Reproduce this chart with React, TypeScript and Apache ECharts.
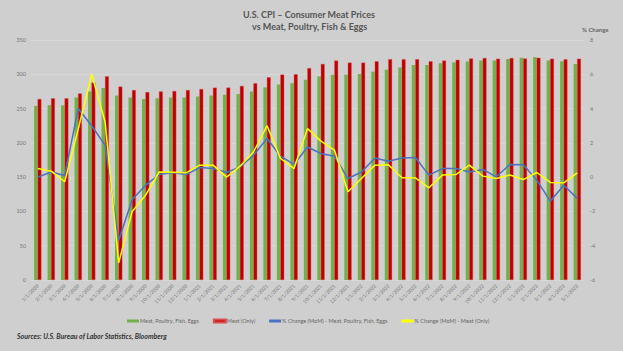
import React, { useEffect, useRef } from "react";
import * as echarts from "echarts";

const categories: string[] = [
  "1/1/2020","2/1/2020","3/1/2020","4/1/2020","5/1/2020","6/1/2020","7/1/2020","8/1/2020","9/1/2020","10/1/2020","11/1/2020","12/1/2020",
  "1/1/2021","2/1/2021","3/1/2021","4/1/2021","5/1/2021","6/1/2021","7/1/2021","8/1/2021","9/1/2021","10/1/2021","11/1/2021","12/1/2021",
  "1/1/2022","2/1/2022","3/1/2022","4/1/2022","5/1/2022","6/1/2022","7/1/2022","8/1/2022","9/1/2022","10/1/2022","11/1/2022","12/1/2022",
  "1/1/2023","2/1/2023","3/1/2023","4/1/2023","5/1/2023",
];

const meatPoultryFishEggs: number[] = [
  254, 255, 255, 266, 275, 280, 269, 266, 264, 265, 266, 266,
  267.5, 269, 270, 271, 275, 281, 285, 287, 292, 297, 299.5, 299.5,
  300.4, 303.8, 306.7, 310, 313.5, 313.5, 316, 317.4, 318.5, 320, 320, 322.3,
  324, 325, 320, 319, 315,
];

const meatOnly: number[] = [
  264, 265, 265, 272, 288, 297, 282, 277, 274, 275, 275.6, 277,
  278.5, 280.5, 280.5, 283, 287, 295.6, 299.5, 300, 309, 315, 320, 317,
  317, 319, 322, 322, 322, 319, 320, 321, 323, 323.7, 322.7, 323.7,
  323, 324, 322.7, 322, 322.7,
];

const pctMPFE: number[] = [
  0.0, 0.3, 0.1, 4.0, 3.0, 1.85, -3.7, -1.3, -0.47, 0.15, 0.27, 0.15,
  0.56, 0.5, 0.27, 0.6, 1.28, 2.25, 1.22, 0.74, 1.76, 1.38, 1.22, -0.08,
  0.3, 1.12, 0.93, 1.12, 1.15, 0.12, 0.5, 0.5, 0.3, 0.45, 0.02, 0.74,
  0.72, -0.17, -1.4, -0.47, -1.24,
];

const pctMeat: number[] = [
  0.5, 0.35, -0.27, 2.8, 6.0, 3.2, -5.0, -2.0, -1.05, 0.3, 0.28, 0.25,
  0.7, 0.7, 0.0, 0.64, 1.47, 3.0, 1.09, 0.5, 2.83, 2.1, 1.57, -0.85,
  -0.08, 0.7, 0.72, -0.04, -0.04, -0.62, 0.12, 0.15, 0.7, 0.06, -0.08, 0.12,
  -0.14, 0.27, -0.31, -0.33, 0.25,
];

const seriesNames = [
  "Meat, Poultry, Fish, Eggs",
  "Meat (Only)",
  "% Change (MoM) - Meat, Poultry, Fish, Eggs",
  "% Change (MoM) - Meat (Only)",
];

const FONT = "Lato, 'Open Sans', sans-serif";

export default function App() {
  const ref = useRef<HTMLDivElement>(null);
  useEffect(() => {
    if (!ref.current) return;
    const chart = echarts.init(ref.current, undefined, { renderer: "svg" });
    chart.setOption({
      animation: false,
      backgroundColor: "#cfcfcf",
      textStyle: { fontFamily: FONT },
      grid: { left: 31, right: 39, top: 40, bottom: 71, containLabel: false },
      graphic: [
        {
          type: "text",
          left: 305 - 62,
          top: 10,
          style: {
            text: "U.S. CPI – Consumer Meat Prices",
            font: `bold 9px ${FONT}`,
            fill: "#555555",
          },
        },
        {
          type: "text",
          left: 252,
          top: 22,
          style: {
            text: "vs Meat, Poultry, Fish & Eggs",
            font: `bold 9px ${FONT}`,
            fill: "#555555",
          },
        },
        {
          type: "text",
          left: 582,
          top: 26,
          style: { text: "% Change", font: `bold 6px ${FONT}`, fill: "#666666" },
        },
        {
          type: "text",
          left: 17,
          top: 332,
          style: {
            text: "Sources: U.S. Bureau of Labor Statistics, Bloomberg",
            font: `italic bold 7px ${FONT}`,
            fill: "#333333",
          },
        },
      ],
      legend: {
        left: 122,
        top: 313,
        itemWidth: 12,
        itemHeight: 3,
        itemGap: 14,
        textStyle: { fontSize: 5.5, color: "#666666", fontFamily: FONT, padding: [0, 0, 0, -4] },
        data: seriesNames.map((n) => ({ name: n, icon: "rect" })),
      },
      xAxis: {
        type: "category",
        data: categories,
        axisTick: { show: false },
        axisLine: { show: false },
        axisLabel: { rotate: 45, fontSize: 5, color: "#777777", interval: 0, margin: 5 },
      },
      yAxis: [
        {
          type: "value",
          min: 0,
          max: 350,
          interval: 50,
          axisLine: { show: false },
          axisTick: { show: false },
          axisLabel: { fontSize: 5.5, color: "#777777", margin: 5 },
          splitLine: { lineStyle: { color: "#dcdcdc", width: 0.6 } },
        },
        {
          type: "value",
          min: -6,
          max: 8,
          interval: 2,
          axisLine: { show: false },
          axisTick: { show: false },
          axisLabel: { fontSize: 5.5, color: "#777777", margin: 6 },
          splitLine: { show: false },
        },
      ],
      series: [
        {
          name: seriesNames[0],
          type: "bar",
          data: meatPoultryFishEggs,
          barWidth: 3.5,
          barGap: "0%",
          itemStyle: { color: "#74b04a" },
        },
        {
          name: seriesNames[1],
          type: "bar",
          data: meatOnly,
          barWidth: 3.8,
          barGap: "0%",
          itemStyle: { color: "#c00000", borderColor: "#d85050", borderWidth: 0.4 },
        },
        {
          name: seriesNames[2],
          type: "line",
          yAxisIndex: 1,
          data: pctMPFE,
          showSymbol: false,
          symbol: "none",
          lineStyle: { color: "#4a72c0", width: 1.5 },
          itemStyle: { color: "#4a72c0" },
        },
        {
          name: seriesNames[3],
          type: "line",
          yAxisIndex: 1,
          data: pctMeat,
          showSymbol: false,
          symbol: "none",
          lineStyle: { color: "#ffff00", width: 1.5 },
          itemStyle: { color: "#ffff00" },
        },
      ],
    });
    return () => chart.dispose();
  }, []);
  return (
    <div
      ref={ref}
      style={{ position: "fixed", left: 0, top: 0, width: 623, height: 351 }}
    />
  );
}
